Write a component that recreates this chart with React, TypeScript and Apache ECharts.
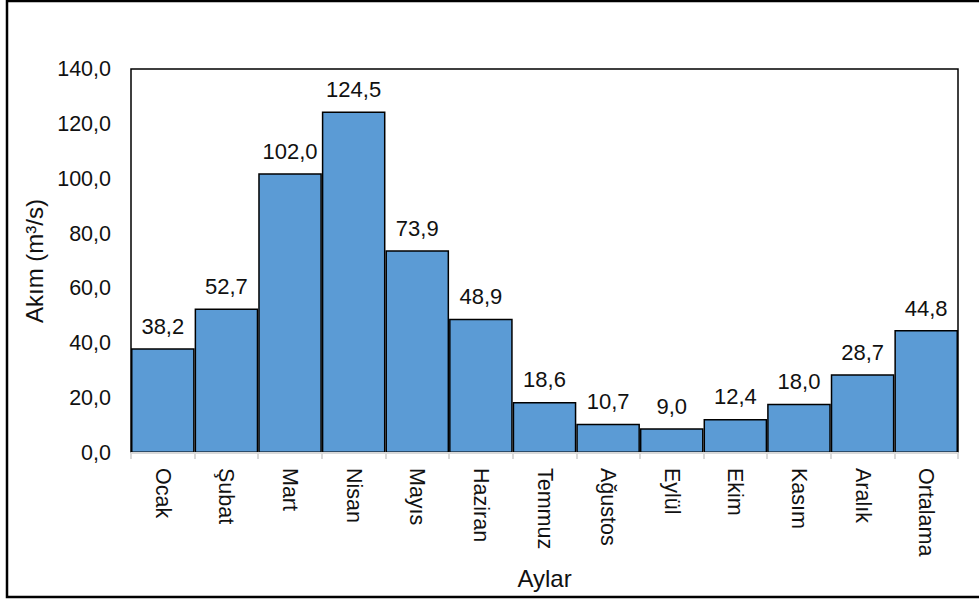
import React, { useEffect, useRef } from "react";
import * as echarts from "echarts";

const months = [
  "Ocak", "Şubat", "Mart", "Nisan", "Mayıs", "Haziran", "Temmuz",
  "Ağustos", "Eylül", "Ekim", "Kasım", "Aralık", "Ortalama",
];
const flows = [38.2, 52.7, 102.0, 124.5, 73.9, 48.9, 18.6, 10.7, 9.0, 12.4, 18.0, 28.7, 44.8];
const yMin = 0;
const yMax = 140;
const yStep = 20;

const fmt = (v: number) => v.toFixed(1).replace(".", ",");
const FONT = "'Liberation Sans', Arial, sans-serif";
const TEXT = "#111";

export default function App() {
  const ref = useRef<HTMLDivElement>(null);

  useEffect(() => {
    if (!ref.current) return;
    const chart = echarts.init(ref.current, undefined, { renderer: "svg" });
    chart.setOption({
      animation: false,
      backgroundColor: "#fff",
      textStyle: { fontFamily: FONT },
      graphic: [
        {
          // frame around the chart; its right edge runs past the canvas
          type: "rect",
          shape: { x: 7, y: 1, width: 990, height: 596 },
          style: { fill: "none", stroke: "#000", lineWidth: 2.5 },
          silent: true,
        },
      ],
      grid: {
        left: 131,
        top: 69,
        width: 827,
        height: 384,
        show: true,
        borderColor: "#000",
        borderWidth: 1.5,
        backgroundColor: "transparent",
      },
      xAxis: {
        type: "category",
        data: months,
        z: 10,
        name: "Aylar",
        nameLocation: "middle",
        nameGap: 113,
        nameTextStyle: { fontSize: 24, color: TEXT, fontFamily: FONT },
        axisLine: { show: true, lineStyle: { color: "#d9d9d9", width: 2 } },
        axisTick: { show: true, length: 6, lineStyle: { color: "#d9d9d9", width: 2 } },
        axisLabel: {
          rotate: -90,
          fontSize: 21.5,
          color: TEXT,
          fontFamily: FONT,
          margin: 15,
          interval: 0,
        },
      },
      yAxis: {
        type: "value",
        min: yMin,
        max: yMax,
        interval: yStep,
        name: "Akım (m³/s)",
        nameLocation: "middle",
        nameGap: 84,
        nameTextStyle: { fontSize: 24, color: TEXT, fontFamily: FONT },
        axisLine: { show: false },
        axisTick: { show: false },
        splitLine: { show: false },
        axisLabel: {
          fontSize: 21.5,
          color: TEXT,
          fontFamily: FONT,
          margin: 20,
          formatter: (v: number) => fmt(v),
        },
      },
      series: [
        {
          type: "bar",
          data: flows,
          barCategoryGap: "0%",
          itemStyle: { color: "#5b9bd5", borderColor: "#000", borderWidth: 1.5 },
          label: {
            show: true,
            position: "top",
            distance: 11,
            fontSize: 22,
            color: TEXT,
            fontFamily: FONT,
            formatter: (p: any) => fmt(p.value),
          },
        },
      ],
    });
    return () => chart.dispose();
  }, []);

  return (
    <div
      ref={ref}
      style={{ position: "absolute", left: 0, top: 0, width: 979, height: 601 }}
    />
  );
}
